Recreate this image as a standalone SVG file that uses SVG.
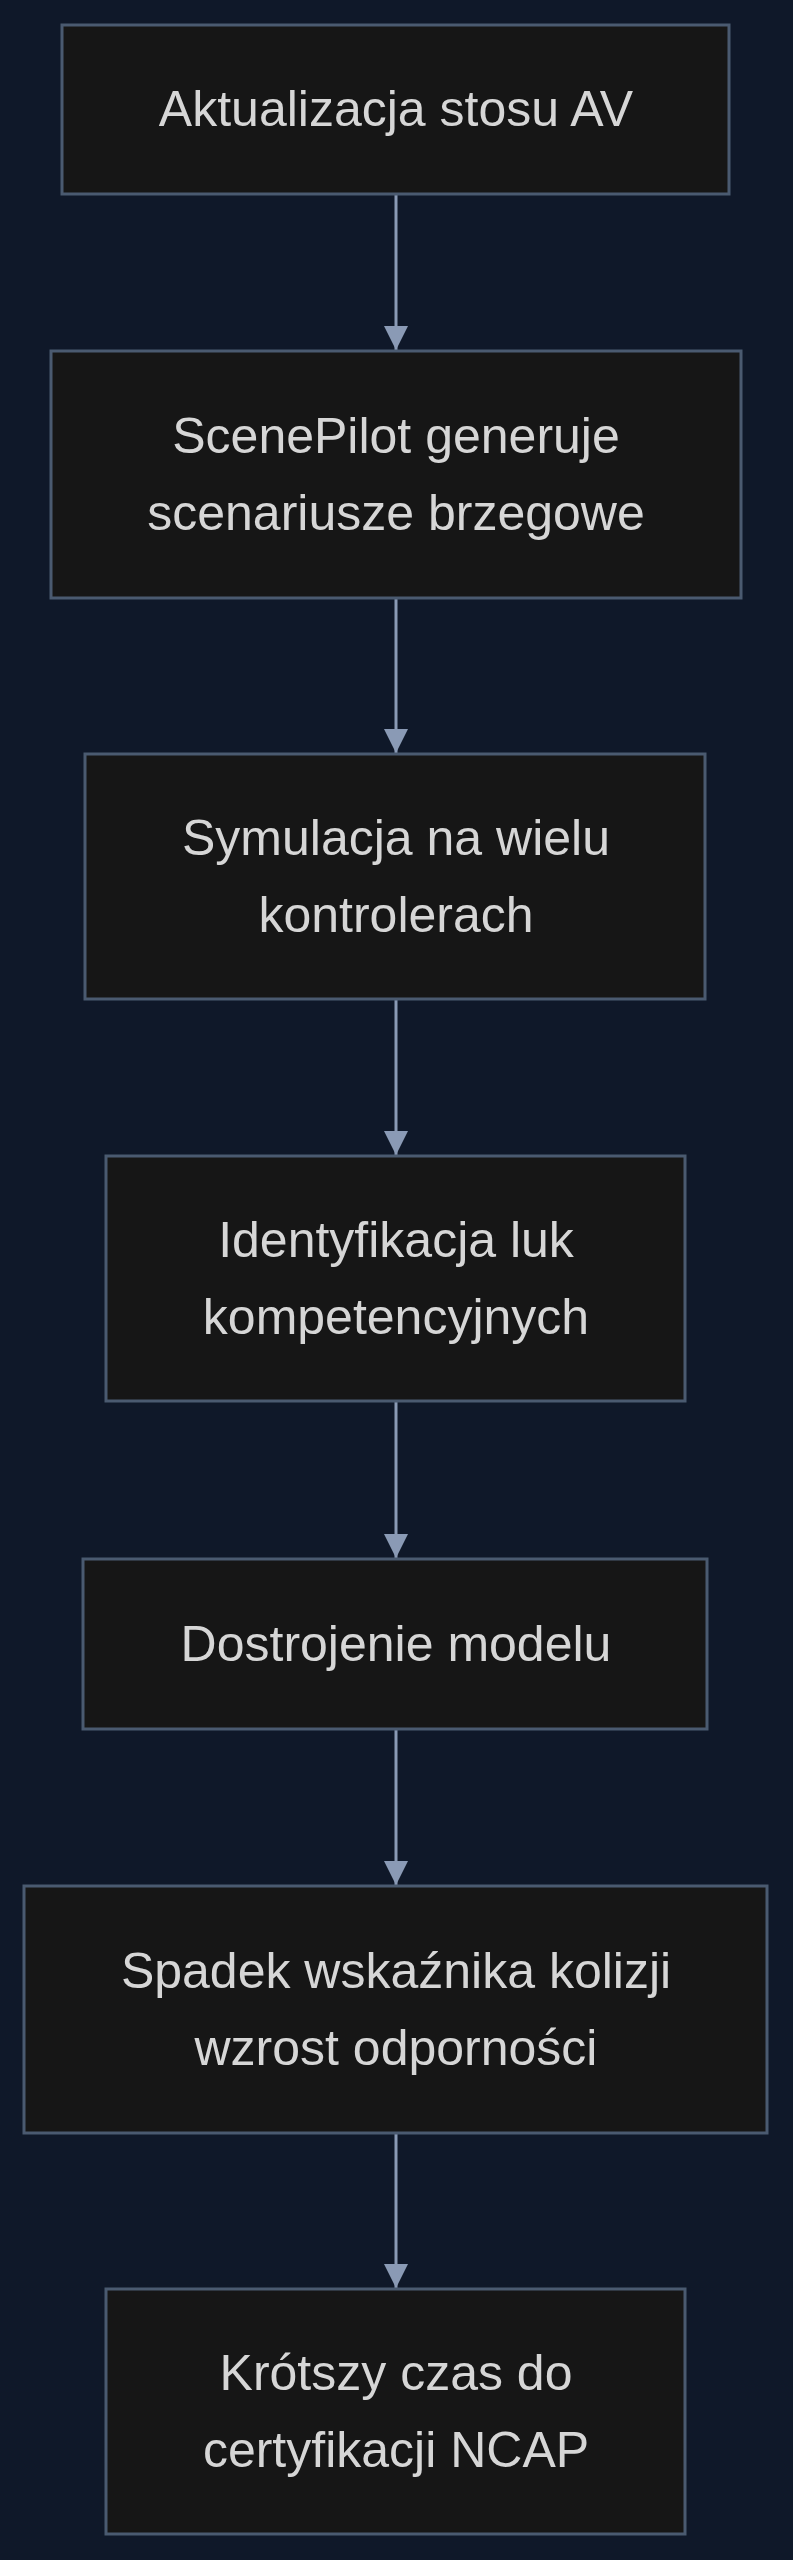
<svg xmlns="http://www.w3.org/2000/svg" width="793" height="2560" viewBox="0 0 793 2560">
<style>
.n rect{fill:#161616;stroke:#4a5a70;stroke-width:3}
.n text{font-family:"Liberation Sans",Arial,sans-serif;font-size:50px;fill:#d6d6d6;text-anchor:middle;dominant-baseline:central}
.e line{stroke:#8a9ab5;stroke-width:3;marker-end:url(#a)}
</style>
<defs><marker id="a" markerWidth="24" markerHeight="26" refX="24" refY="12" orient="auto" markerUnits="userSpaceOnUse" viewBox="0 0 24 24"><path d="M0,0L24,12L0,24z" fill="#8a9ab5"/></marker></defs>
<rect width="793" height="2560" fill="#0f1829"/>
<g class="e">
<line x1="396" y1="194" x2="396" y2="350"/>
<line x1="396" y1="598" x2="396" y2="753"/>
<line x1="396" y1="999" x2="396" y2="1155"/>
<line x1="396" y1="1401" x2="396" y2="1558"/>
<line x1="396" y1="1729" x2="396" y2="1885"/>
<line x1="396" y1="2133" x2="396" y2="2288"/>
</g>
<g id="n1" class="n"><rect x="62" y="25" width="667" height="169"/><text x="396" y="109">Aktualizacja stosu AV</text></g>
<g id="n2" class="n"><rect x="51" y="351" width="690" height="247"/><text x="396" y="436">ScenePilot generuje</text><text x="396" y="513">scenariusze brzegowe</text></g>
<g id="n3" class="n"><rect x="85" y="754" width="620" height="245"/><text x="396" y="838">Symulacja na wielu</text><text x="396" y="915">kontrolerach</text></g>
<g id="n4" class="n"><rect x="106" y="1156" width="579" height="245"/><text x="396" y="1240">Identyfikacja luk</text><text x="396" y="1317">kompetencyjnych</text></g>
<g id="n5" class="n"><rect x="83" y="1559" width="624" height="170"/><text x="396" y="1644">Dostrojenie modelu</text></g>
<g id="n6" class="n"><rect x="24" y="1886" width="743" height="247"/><text x="396" y="1971">Spadek wskaźnika kolizji</text><text x="396" y="2048">wzrost odporności</text></g>
<g id="n7" class="n"><rect x="106" y="2289" width="579" height="245"/><text x="396" y="2373">Krótszy czas do</text><text x="396" y="2450">certyfikacji NCAP</text></g>
</svg>
